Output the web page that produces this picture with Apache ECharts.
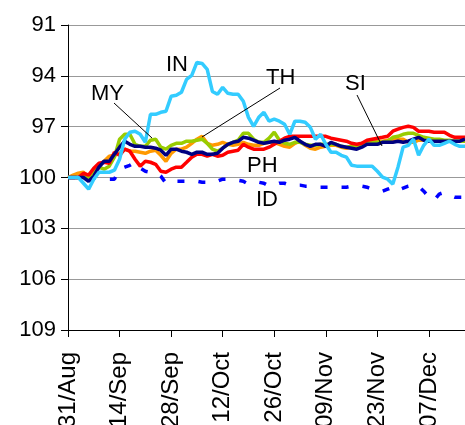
<!DOCTYPE html>
<html>
<head>
<meta charset="utf-8">
<script src="https://cdn.jsdelivr.net/npm/echarts@6/dist/echarts.min.js"></script>
<style>
  html, body { margin: 0; padding: 0; background: #fff; }
  #chart { width: 465px; height: 425px; }
</style>
</head>
<body>
<div id="chart"></div>
<script>
// business days from 31 Aug, one category per trading day
const MONTHS = ["Jan", "Feb", "Mar", "Apr", "May", "Jun", "Jul", "Aug", "Sep", "Oct", "Nov", "Dec"];
const dates = [];
for (let d = new Date(Date.UTC(2009, 7, 31)); dates.length < 78; d.setUTCDate(d.getUTCDate() + 1)) {
  const wd = d.getUTCDay();
  if (wd === 0 || wd === 6) continue;
  dates.push(String(d.getUTCDate()).padStart(2, "0") + "/" + MONTHS[d.getUTCMonth()]);
}

const yTicks = [91, 94, 97, 100, 103, 106, 109];

const IN = [100, 100, 100, 100.34, 100.69, 100.1, 99.69, 99.69, 99.69, 99.57,
  98.92, 97.74, 97.33, 97.27, 97.45, 97.92, 96.27, 96.27, 96.15, 96.09,
  95.21, 95.15, 94.97, 94.21, 93.97, 93.21, 93.27, 93.62, 94.92, 95.09,
  94.68, 95.03, 95.09, 95.09, 95.5, 96.45, 96.98, 96.45, 96.15, 96.68,
  96.56, 96.68, 96.86, 97.45, 96.68, 96.68, 96.74, 97.04, 97.74, 97.45,
  98.04, 98.51, 98.51, 98.69, 98.8, 99.28, 99.33, 99.33, 99.33, 99.33,
  99.63, 99.98, 100.1, 100.39, 99.39, 98.21, 98.1, 97.74, 98.69, 98.1,
  97.74, 98.1, 98.1, 97.98, 97.86, 98.04, 98.16, 98.16];

const SI = [100, 100, 100, 100, 100.22, 99.92, 99.39, 99.04, 99.04, 98.63,
  98.21, 97.86, 98.04, 98.16, 98.16, 98.21, 98.21, 98.27, 98.39, 98.69,
  98.33, 98.33, 98.45, 98.51, 98.63, 98.51, 98.51, 98.63, 98.63, 98.57,
  98.27, 98.04, 97.92, 97.86, 97.63, 97.68, 97.8, 97.92, 97.98, 97.92,
  97.86, 97.92, 97.8, 97.74, 97.63, 97.86, 98.04, 98.16, 98.04, 98.04,
  98.16, 97.92, 98.04, 98.16, 98.21, 98.27, 98.33, 98.21, 98.04, 98.04,
  98.04, 97.92, 97.92, 97.92, 97.86, 97.92, 97.86, 97.74, 97.63, 97.8,
  97.86, 97.86, 97.86, 97.86, 97.86, 97.86, 97.86, 97.74];

const PH = [100, 100, 100, 99.75, 99.86, 99.45, 99.16, 99.1, 99.16, 98.51,
  98.69, 98.33, 98.45, 98.92, 99.33, 99.04, 99.1, 99.22, 99.63, 99.69,
  99.51, 99.39, 99.39, 99.1, 98.8, 98.63, 98.63, 98.74, 98.63, 98.74,
  98.69, 98.51, 98.45, 98.39, 98.04, 98.21, 98.33, 98.33, 98.33, 98.21,
  98.04, 97.86, 97.68, 97.57, 97.57, 97.57, 97.57, 97.57, 97.57, 97.57,
  97.57, 97.68, 97.74, 97.8, 97.86, 97.98, 98.04, 97.98, 97.8, 97.74,
  97.68, 97.63, 97.57, 97.27, 97.15, 97.04, 96.98, 97.04, 97.27, 97.27,
  97.27, 97.33, 97.33, 97.33, 97.51, 97.63, 97.63, 97.63];

const MY = [100, 100, 100, 99.86, 100, 99.63, 99.39, 99.51, 99.33, 98.8,
  97.74, 97.45, 97.45, 98.04, 98.16, 98.16, 97.8, 97.74, 98.21, 98.33,
  98.1, 97.98, 97.98, 97.86, 97.86, 97.8, 97.74, 97.98, 98.33, 98.45,
  98.27, 98.04, 97.92, 97.8, 97.39, 97.39, 97.74, 97.92, 97.92, 97.68,
  97.33, 97.8, 97.98, 98.04, 97.92, 97.92, 98.04, 98.1, 98.1, 98.04,
  98.04, 98.04, 98.04, 98.16, 98.21, 98.16, 98.1, 97.98, 97.98, 97.92,
  97.92, 97.92, 97.86, 97.63, 97.57, 97.45, 97.39, 97.39, 97.51, 97.63,
  97.68, 97.74, 97.74, 97.8, 97.8, 97.86, 97.86, 97.86];

const TH = [100, 99.86, 99.75, 99.69, 100, 99.63, 99.28, 99.04, 98.74, 98.69,
  98.57, 98.33, 98.45, 98.45, 98.51, 98.57, 98.45, 98.39, 98.69, 99.04,
  98.57, 98.33, 98.33, 98.21, 97.98, 97.74, 97.57, 97.98, 98.1, 98.04,
  97.92, 98.04, 98.1, 98.04, 97.92, 98.04, 98.1, 98.1, 97.98, 97.92,
  97.92, 98.04, 98.16, 98.21, 97.98, 97.86, 98.1, 98.27, 98.33, 98.21,
  98.16, 98.1, 98.1, 98.21, 98.27, 98.21, 98.16, 98.04, 97.98, 97.92,
  97.86, 97.86, 97.8, 97.74, 97.74, 97.74, 97.92, 97.92, 97.8, 97.8,
  97.86, 97.86, 97.86, 97.86, 97.86, 97.86, 97.86, 97.86];

const ID = [100, 100, 100, 100, 100, 100, 100.04, 100.04, 100.1, 100.1,
  99.51, 99.39, 99.28, 99.1, 99.45, 99.63, 99.69, 99.69, 99.92, 100.34,
  100.28, 100.22, 100.22, 100.22, 100.22, 100.22, 100.28, 100.28, 100.34, 100.22,
  100.1, 100.1, 100.1, 100.16, 100.22, 100.39, 100.34, 100.28, 100.34, 100.51,
  100.45, 100.34, 100.34, 100.45, 100.45, 100.45, 100.51, 100.51, 100.57, 100.57,
  100.57, 100.57, 100.57, 100.57, 100.57, 100.51, 100.51, 100.51, 100.57, 100.69,
  100.75, 100.81, 100.69, 100.57, 100.75, 100.63, 100.51, 100.45, 100.51, 100.81,
  101.16, 101.34, 100.98, 100.87, 101.04, 101.16, 101.16, 101.16];

const FONT = "Liberation Sans, Arial, sans-serif";

const chart = echarts.init(document.getElementById("chart"));

function line(name, data, color, dashed) {
  return {
    name: name,
    type: "line",
    data: data,
    symbol: "none",
    lineStyle: { color: color, width: 3.5, type: dashed ? [7, 14] : "solid", cap: "butt" },
    z: 2,
  };
}

function label(text, x, y) {
  return {
    type: "text",
    left: x,
    top: y,
    style: { text: text, font: "22px " + FONT, fill: "#000" },
    z: 10,
  };
}

function leader(x1, y1, x2, y2) {
  return {
    type: "line",
    shape: { x1: x1, y1: y1, x2: x2, y2: y2 },
    style: { stroke: "#000", lineWidth: 1 },
    z: 10,
  };
}

chart.setOption({
  animation: false,
  grid: { left: 68, top: 25, right: 0, bottom: 95, outerBoundsMode: "none", containLabel: false },
  xAxis: {
    type: "category",
    data: dates,
    boundaryGap: false,
    axisLine: { onZero: false, lineStyle: { color: "#000", width: 1 } },
    axisTick: { interval: 9, length: 7, lineStyle: { color: "#000" } },
    axisLabel: {
      interval: 9,
      rotate: 90,
      margin: 22,
      color: "#000",
      fontSize: 24,
      fontFamily: FONT,
    },
    splitLine: { show: false },
  },
  yAxis: {
    type: "value",
    inverse: true,
    min: yTicks[0],
    max: yTicks[yTicks.length - 1],
    interval: 3,
    axisLine: { show: true, lineStyle: { color: "#000", width: 1 } },
    axisTick: { show: true, length: 7, lineStyle: { color: "#000" } },
    axisLabel: { color: "#000", fontSize: 22, fontFamily: FONT, margin: 12 },
    splitLine: { lineStyle: { color: "#999", width: 1 } },
  },
  series: [
    line("ID", ID, "#0000FF", true),
    line("TH", TH, "#FF9900"),
    line("MY", MY, "#99CC00"),
    line("PH", PH, "#FF0000"),
    line("SI", SI, "#000080"),
    line("IN", IN, "#33CCFF"),
  ],
  graphic: [
    leader(114, 103, 152, 138),
    leader(280, 88, 202, 137),
    leader(357, 95, 382, 146),
    label("IN", 166, 54),
    label("MY", 91, 83),
    label("TH", 266, 67),
    label("SI", 345, 73),
    label("PH", 247, 155),
    label("ID", 256, 189),
  ],
});
</script>
</body>
</html>
